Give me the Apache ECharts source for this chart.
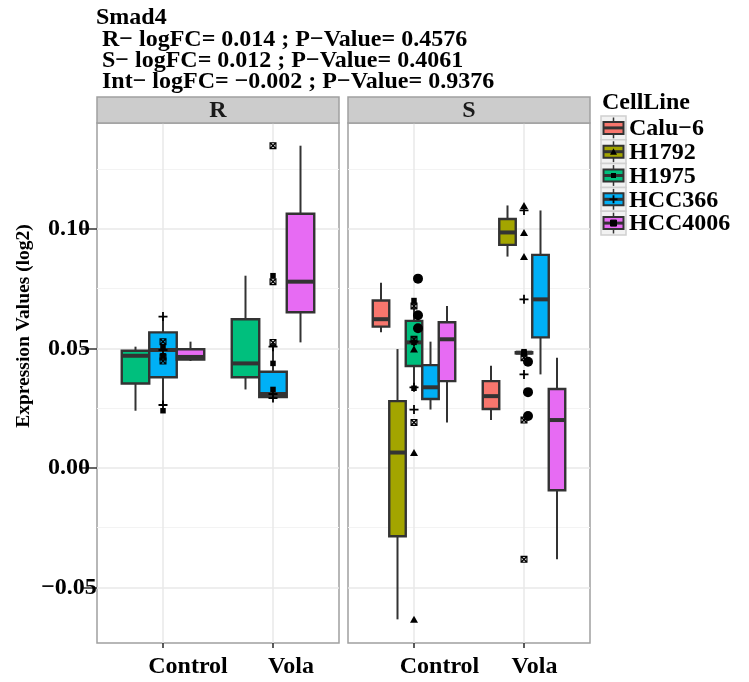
<!DOCTYPE html>
<html>
<head>
<meta charset="utf-8">
<script src="https://cdn.jsdelivr.net/npm/echarts@6/dist/echarts.min.js"></script>
<style>
  html, body { margin: 0; padding: 0; background: #ffffff; }
  #chart { width: 749px; height: 682px; }
</style>
</head>
<body>
<div id="chart"></div>
<script>
// ---- data -------------------------------------------------------------
const cellLines = ['Calu\u22126', 'H1792', 'H1975', 'HCC366', 'HCC4006'];
const cellColors = ['#F8766D', '#A3A500', '#00BF7D', '#00B0F6', '#E76BF3'];
const conditions = ['Control', 'Vola'];
const panelNames = ['R', 'S'];
const yTicks = [-0.05, 0, 0.05, 0.10];
const yMinorTicks = [-0.025, 0.025, 0.075, 0.125];
const titleLines = [
  'Smad4',
  ' R\u2212 logFC= 0.014 ; P\u2212Value= 0.4576',
  ' S\u2212 logFC= 0.012 ; P\u2212Value= 0.4061',
  ' Int\u2212 logFC= \u22120.002 ; P\u2212Value= 0.9376'
];

// five-number summaries [min, Q1, median, Q3, max] per cell line (null = not profiled)
const boxR_Control = [null, null,
  [0.0239, 0.0353, 0.0469, 0.0490, 0.0507],
  [0.0263, 0.0379, 0.0493, 0.0567, 0.0633],
  [0.0447, 0.0453, 0.0464, 0.0496, 0.0528]];
const boxR_Vola = [null, null,
  [0.0328, 0.0379, 0.0437, 0.0622, 0.0804],
  [0.0292, 0.0296, 0.0309, 0.0402, 0.0507],
  [0.0525, 0.0651, 0.0779, 0.1063, 0.1348]];
const boxS_Control = [
  [0.0567, 0.0591, 0.0622, 0.0700, 0.0775],
  [-0.0634, -0.0286, 0.0064, 0.0279, 0.0497],
  [0.0333, 0.0426, 0.0525, 0.0615, 0.0700],
  [0.0244, 0.0288, 0.0337, 0.0430, 0.0528],
  [0.0190, 0.0363, 0.0538, 0.0609, 0.0677]];
const boxS_Vola = [
  [0.0200, 0.0246, 0.0300, 0.0363, 0.0427],
  [0.0884, 0.0933, 0.0985, 0.1041, 0.1098],
  [0.0476, 0.0479, 0.0482, 0.0484, 0.0486],
  [0.0391, 0.0546, 0.0705, 0.0891, 0.1077],
  [-0.0383, -0.0094, 0.0200, 0.0330, 0.0461]];

// replicate measurements per cell line
const ptsR_Control = [[], [], [0.0239, 0.0469, 0.0507], [0.0263, 0.0493, 0.0633], [0.0447, 0.0464, 0.0528]];
const ptsR_Vola = [[], [], [0.0328, 0.0437, 0.0804], [0.0292, 0.0309, 0.0507], [0.0525, 0.0779, 0.1348]];
const ptsS_Control = [[0.0567, 0.0622, 0.0775], [-0.0634, 0.0064, 0.0497], [0.0333, 0.0525, 0.0700], [0.0244, 0.0337, 0.0528], [0.0190, 0.0538, 0.0677]];
const ptsS_Vola = [[0.0200, 0.0300, 0.0427], [0.0884, 0.0985, 0.1098], [0.0476, 0.0482, 0.0486], [0.0391, 0.0705, 0.1077], [-0.0383, 0.0200, 0.0461]];

// ---- styling / layout -------------------------------------------------
const FONT = '"Liberation Serif", "Times New Roman", serif';
const INK = '#333333';
const GRID_MAJOR = '#e8e8e8';
const Y_MIN = -0.0733, Y_MAX = 0.1443;
const panelBoxes = [[boxR_Control, boxR_Vola], [boxS_Control, boxS_Vola]];
const panelPts = [[ptsR_Control, ptsR_Vola], [ptsS_Control, ptsS_Vola]];
const gridRects = [
  { left: 97, top: 123, width: 242, height: 520 },
  { left: 348, top: 123, width: 242, height: 520 }
];
const STRIP_TOP = 97;

// point glyphs (ggplot shapes 16, 17, 15, 3, 7)
const PLUS_PATH = 'path://M4,0H6V4H10V6H6V10H4V6H0V4H4Z';
const BOXX_PATH = 'path://M0,0L10,0L10,10L0,10Z' +
  'M3.01,1.6L5,3.59L6.99,1.6Z' +
  'M3.01,8.4L6.99,8.4L5,6.41Z' +
  'M1.6,3.01L1.6,6.99L3.59,5Z' +
  'M8.4,3.01L6.41,5L8.4,6.99Z';
const pointSymbols = ['circle', 'triangle', 'rect', PLUS_PATH, BOXX_PATH];
const pointSizes = [10, [8, 7], 5.5, 9, 7];
const pointOffsets = [[4, -4], [0, 0], [0, 0], [0, 0], [0, 0]];

function fmtY(v) {
  const s = Math.abs(v).toFixed(2);
  return v < -1e-9 ? '\u2212' + s : s;
}

// dodged box-and-whisker glyph
function renderBox(params, api) {
  const cond = api.value(0);
  const li = api.value(1);
  const y = (k) => api.coord([cond, api.value(k)])[1];
  const slot = api.value(2);
  const nSlots = api.value(3);
  const dodge = api.size([0.75, 0])[0];
  const w = dodge / nSlots;
  const centre = api.coord([cond, api.value(6)]);
  const left = centre[0] - dodge / 2 + slot * w;
  const cx = left + w / 2;
  const yMin = y(4), yQ1 = y(5), yMed = y(6), yQ3 = y(7), yMax = y(8);
  return {
    type: 'group',
    children: [
      { type: 'line', shape: { x1: cx, y1: yMax, x2: cx, y2: yQ3 }, style: { stroke: INK, lineWidth: 2 } },
      { type: 'line', shape: { x1: cx, y1: yQ1, x2: cx, y2: yMin }, style: { stroke: INK, lineWidth: 2 } },
      { type: 'rect', shape: { x: left, y: yQ3, width: w, height: Math.max(yQ1 - yQ3, 0.5) },
        style: { fill: cellColors[li], stroke: INK, lineWidth: 2.4 } },
      { type: 'line', shape: { x1: left, y1: yMed, x2: left + w, y2: yMed }, style: { stroke: INK, lineWidth: 4 } }
    ]
  };
}

// ---- series -----------------------------------------------------------
const series = [];
panelNames.forEach((pname, pi) => {
  const rows = [];
  panelBoxes[pi].forEach((condBoxes, ci) => {
    const present = cellLines.map((_, li) => li).filter((li) => condBoxes[li]);
    present.forEach((li, slot) => {
      rows.push([ci + 1, li, slot, present.length].concat(condBoxes[li]));
    });
  });
  series.push({
    type: 'custom', name: pname + ' boxes', xAxisIndex: pi, yAxisIndex: pi,
    renderItem: renderBox, encode: { x: 0, y: [4, 5, 6, 7, 8] },
    data: rows, clip: false, z: 2, silent: true, animation: false
  });
  cellLines.forEach((name, li) => {
    const data = [];
    panelPts[pi].forEach((condPts, ci) => condPts[li].forEach((v) => data.push([ci + 1, v])));
    if (!data.length) return;
    series.push({
      type: 'scatter', name: name, xAxisIndex: pi, yAxisIndex: pi, data: data,
      symbol: pointSymbols[li], symbolSize: pointSizes[li], symbolOffset: pointOffsets[li],
      itemStyle: { color: '#000000', opacity: 1 }, z: 3, silent: true, animation: false
    });
  });
});

// ---- axes -------------------------------------------------------------
const xLabelPad = [[50, 36], [51, 21]];
const xAxes = gridRects.map((g, pi) => ({
  type: 'value', gridIndex: pi, min: 0.4, max: 2.6, position: 'bottom',
  axisLine: { show: false, onZero: false },
  axisTick: { show: true, length: 5, customValues: [1, 2], lineStyle: { color: INK, width: 1.6 } },
  axisLabel: {
    show: true, customValues: [1, 2], margin: 12,
    formatter: (v) => (Math.round(v) === 1 ? '{c|' + conditions[0] + '}' : '{v|' + conditions[1] + '}'),
    rich: {
      c: { fontFamily: FONT, fontWeight: 'bold', fontSize: 24, color: '#000', padding: [0, 0, 0, xLabelPad[pi][0]] },
      v: { fontFamily: FONT, fontWeight: 'bold', fontSize: 24, color: '#000', padding: [0, 0, 0, xLabelPad[pi][1]] }
    }
  },
  splitLine: { show: true, lineStyle: { color: GRID_MAJOR, width: 1.5 } }
}));
const yAxes = [];
gridRects.forEach((g, pi) => yAxes.push({
  type: 'value', gridIndex: pi, min: Y_MIN, max: Y_MAX,
  axisLine: { show: false, onZero: false },
  axisTick: { show: pi === 0, length: 16, customValues: yTicks, lineStyle: { color: INK, width: 1.5 } },
  axisLabel: {
    show: pi === 0, customValues: yTicks, formatter: fmtY, align: 'center', margin: 28,
    fontFamily: FONT, fontWeight: 'bold', fontSize: 24, color: '#000'
  },
  splitLine: { show: true, lineStyle: { color: GRID_MAJOR, width: 1.5 } }
}));
gridRects.forEach((g, pi) => yAxes.push({
  type: 'value', gridIndex: pi, min: Y_MIN, max: Y_MAX, position: 'left',
  axisLine: { show: false, onZero: false },
  axisTick: { show: false, customValues: yMinorTicks },
  axisLabel: { show: false, customValues: yMinorTicks },
  splitLine: { show: true, lineStyle: { color: '#f3f3f3', width: 1 } }
}));

// ---- facet strips, axis title and legend -------------------------------
const graphics = [];
gridRects.forEach((g, pi) => {
  graphics.push({
    type: 'rect', shape: { x: g.left, y: STRIP_TOP, width: g.width, height: g.top - STRIP_TOP },
    style: { fill: '#cccccc', stroke: '#a0a0a0', lineWidth: 1.5 }, z: 10
  });
  graphics.push({
    type: 'text', x: g.left + g.width / 2, y: STRIP_TOP + (g.top - STRIP_TOP) / 2 + 1,
    style: { text: panelNames[pi], font: 'bold 24px ' + FONT, fill: '#1a1a1a', align: 'center', verticalAlign: 'middle',
      textAlign: 'center', textVerticalAlign: 'middle' }, z: 11
  });
});
graphics.push({
  type: 'text', x: 24, y: 326, rotation: Math.PI / 2,
  style: { text: 'Expression Values (log2)', font: 'bold 19.5px ' + FONT, fill: '#000', align: 'center', verticalAlign: 'middle',
    textAlign: 'center', textVerticalAlign: 'middle' }, z: 11
});

const LEG_X = 601, LEG_TOP = 116, KEY_W = 25, KEY_H = 23.8;
graphics.push({
  type: 'text', x: 602, y: 103,
  style: { text: 'CellLine', font: 'bold 24px ' + FONT, fill: '#000', align: 'left', verticalAlign: 'middle',
    textAlign: 'left', textVerticalAlign: 'middle' }, z: 11
});
cellLines.forEach((name, li) => {
  const top = LEG_TOP + li * KEY_H;
  const cy = top + KEY_H / 2;
  const cx = LEG_X + KEY_W / 2;
  const kids = [
    { type: 'rect', shape: { x: LEG_X, y: top, width: KEY_W, height: KEY_H }, style: { fill: '#f2f2f2', stroke: '#d0d0d0', lineWidth: 1.5 } },
    { type: 'line', shape: { x1: cx, y1: top + 1.5, x2: cx, y2: top + KEY_H - 1.5 }, style: { stroke: INK, lineWidth: 1.5 } },
    { type: 'rect', shape: { x: LEG_X + 2.5, y: cy - 6, width: KEY_W - 5, height: 12 }, style: { fill: cellColors[li], stroke: INK, lineWidth: 2 } },
    { type: 'line', shape: { x1: LEG_X + 2.5, y1: cy, x2: LEG_X + KEY_W - 2.5, y2: cy }, style: { stroke: INK, lineWidth: 3 } }
  ];
  if (li === 1) kids.push({ type: 'polygon', shape: { points: [[cx - 3.5, cy + 3], [cx + 3.5, cy + 3], [cx, cy - 3.5]] }, style: { fill: '#000' } });
  if (li === 2) kids.push({ type: 'rect', shape: { x: cx - 2.5, y: cy - 2.5, width: 5, height: 5 }, style: { fill: '#000' } });
  if (li === 3) {
    kids.push({ type: 'line', shape: { x1: cx - 4, y1: cy, x2: cx + 4, y2: cy }, style: { stroke: '#000', lineWidth: 1.8 } });
    kids.push({ type: 'line', shape: { x1: cx, y1: cy - 4, x2: cx, y2: cy + 4 }, style: { stroke: '#000', lineWidth: 1.8 } });
  }
  if (li === 4) {
    kids.push({ type: 'rect', shape: { x: cx - 3, y: cy - 3, width: 6, height: 6 }, style: { fill: '#000', stroke: '#000', lineWidth: 1 } });
  }
  graphics.push({ type: 'group', children: kids, z: 11 });
  graphics.push({
    type: 'text', x: 629, y: cy + 1,
    style: { text: name, font: 'bold 24px ' + FONT, fill: '#000', align: 'left', verticalAlign: 'middle',
      textAlign: 'left', textVerticalAlign: 'middle' }, z: 11
  });
});

// ---- chart ------------------------------------------------------------
const chart = echarts.init(document.getElementById('chart'), null, { renderer: 'canvas' });
chart.setOption({
  backgroundColor: '#ffffff',
  animation: false,
  title: {
    text: titleLines.join('\n'), left: 96, top: 7.5, padding: 0,
    textStyle: { fontFamily: FONT, fontWeight: 'bold', fontSize: 24, lineHeight: 21.3, color: '#000' }
  },
  grid: gridRects.map((g) => Object.assign({ show: true, backgroundColor: '#ffffff', borderColor: '#a0a0a0', borderWidth: 1.5 }, g)),
  xAxis: xAxes,
  yAxis: yAxes,
  series: series,
  graphic: graphics
});
</script>
</body>
</html>
